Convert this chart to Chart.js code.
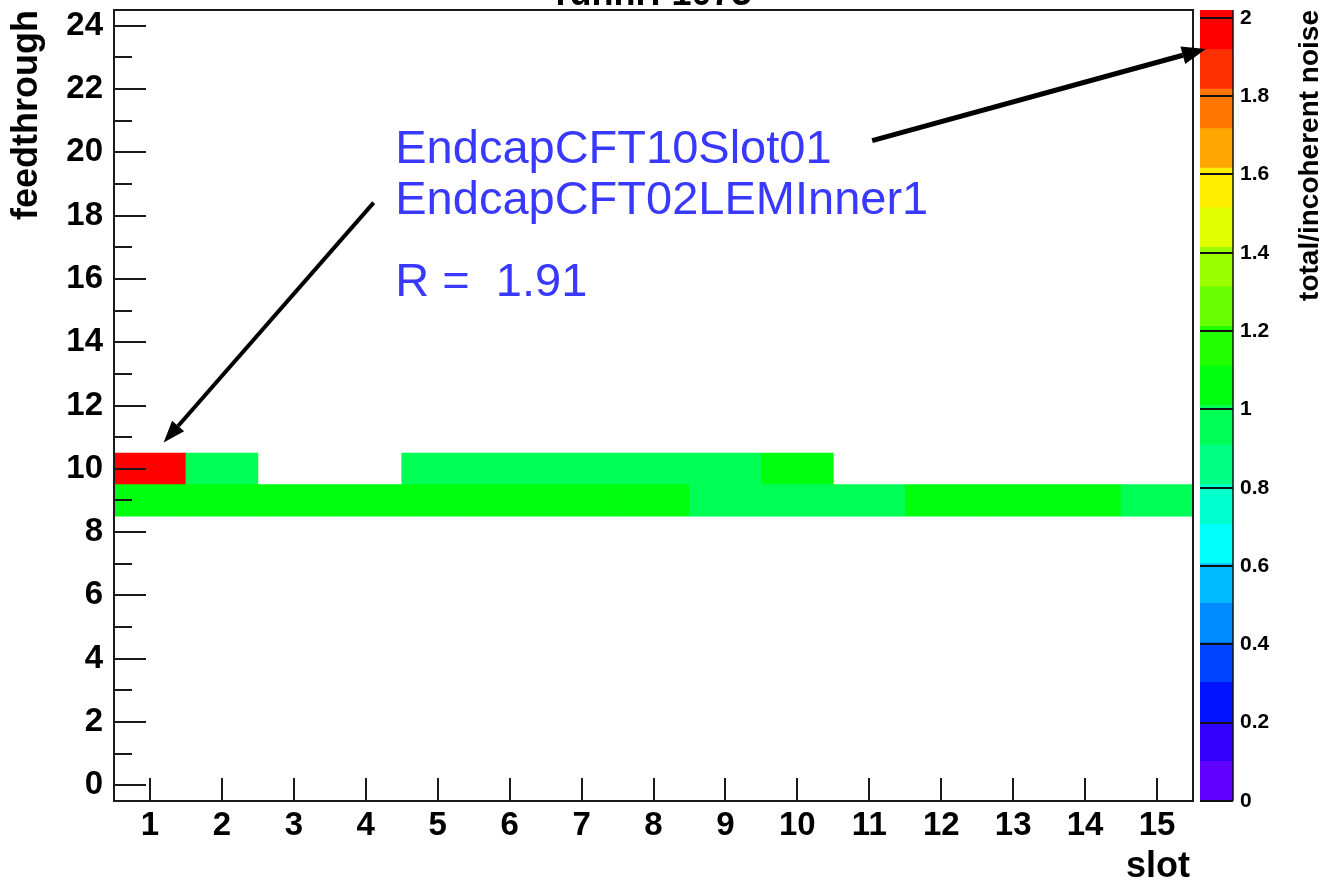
<!DOCTYPE html>
<html><head><meta charset="utf-8">
<script src="https://cdn.jsdelivr.net/npm/chart.js@4.4.1/dist/chart.umd.min.js"></script>
<style>
html,body{margin:0;padding:0;background:#fff;}
#wrap{position:relative;width:1322px;height:880px;overflow:hidden;}
#cbar{position:absolute;left:1190px;top:0;width:132px;height:880px;}
#main{position:absolute;left:0;top:0;width:1322px;height:880px;}
</style></head><body>
<div id="wrap">
  <div id="cbar"><canvas id="cbarCanvas"></canvas></div>
  <div id="main"><canvas id="mainCanvas"></canvas></div>
</div>
<script>
// ---------------- data ----------------
const slots = ['1','2','3','4','5','6','7','8','9','10','11','12','13','14','15'];
const feedthroughRows = [9, 10];
// total/incoherent noise ratio per slot (null = empty bin)
const row9Ratio  = [1.04, 1.03, 1.05, 1.02, 1.04, 1.03, 1.02, 1.01, 0.98, 0.97, 0.99, 1.03, 1.04, 1.02, 0.98];
const row10Ratio = [1.91, 0.96, null, null, 0.97, 0.95, 0.96, 0.98, 0.97, 1.02, null, null, null, null, null];
const yTickValues = [0,1,2,3,4,5,6,7,8,9,10,11,12,13,14,15,16,17,18,19,20,21,22,23,24];
const yLabelValues = [0,2,4,6,8,10,12,14,16,18,20,22,24];
const zTickValues = [0,0.2,0.4,0.6,0.8,1,1.2,1.4,1.6,1.8,2];
const zContourMax = 2.0;   // contour range used for colouring
const zAxisMax = 2.02;     // palette axis range
const paletteColors = ['#6200ff','#3300ff','#0014ff','#0044ff','#008bff','#00bbff','#00fffc','#00ffcc','#00ff85','#00ff55',
                       '#00ff0e','#22ff00','#69ff00','#99ff00','#e0ff00','#ffee00','#ffa700','#ff7700','#ff3000','#ff0000'];
const annotationLines = ['EndcapCFT10Slot01', 'EndcapCFT02LEMInner1', 'R =  1.91'];
const titleText = 'runnr: 1073';
// --------------------------------------

const FONT = "'Liberation Sans', Arial, Helvetica, sans-serif";
Chart.defaults.font.family = FONT;

function colorFor(v) {
  const n = paletteColors.length;
  let k = Math.floor(v / (zContourMax / n));
  k = Math.max(0, Math.min(n - 1, k));
  return paletteColors[k];
}

const rowData = [row9Ratio, row10Ratio];
const mainDatasets = feedthroughRows.map((row, r) => ({
  label: 'feedthrough ' + row,
  data: rowData[r].map(v => v === null ? null : [row - 0.5, row + 0.5]),
  backgroundColor: rowData[r].map(v => v === null ? 'rgba(0,0,0,0)' : colorFor(v)),
  borderWidth: 0,
  grouped: false,
  barPercentage: 1,
  categoryPercentage: 1
}));

function line(ctx, x1, y1, x2, y2) {
  ctx.beginPath(); ctx.moveTo(x1, y1); ctx.lineTo(x2, y2); ctx.stroke();
}
function arrow(ctx, x1, y1, x2, y2, w, headLen, headW) {
  const ang = Math.atan2(y2 - y1, x2 - x1);
  const bx = x2 - headLen * Math.cos(ang), by = y2 - headLen * Math.sin(ang);
  ctx.lineWidth = w;
  line(ctx, x1, y1, bx, by);
  ctx.beginPath();
  ctx.moveTo(x2, y2);
  ctx.lineTo(bx + headW / 2 * Math.sin(ang), by - headW / 2 * Math.cos(ang));
  ctx.lineTo(bx - headW / 2 * Math.sin(ang), by + headW / 2 * Math.cos(ang));
  ctx.closePath(); ctx.fill();
}
function noPad(s) { s.paddingTop = 0; s.paddingBottom = 0; s.paddingLeft = 0; s.paddingRight = 0; }

const frameAndTicks = {
  id: 'frameAndTicks',
  afterDatasetsDraw(chart) {
    const {ctx, chartArea: a, scales: {x, y}} = chart;
    ctx.save();
    ctx.strokeStyle = '#1a1a1a';
    ctx.lineWidth = 2;
    ctx.strokeRect(a.left, a.top, a.right - a.left, a.bottom - a.top);
    x.ticks.forEach((t, i) => {
      const px = Math.round(x.getPixelForTick(i));
      line(ctx, px, a.bottom, px, a.bottom - 23);
    });
    y.ticks.forEach(t => {
      const py = Math.round(y.getPixelForValue(t.value));
      const len = yLabelValues.includes(t.value) ? 32 : 18;
      line(ctx, a.left, py, a.left + len, py);
    });
    ctx.restore();
  },
  afterDraw(chart) {
    const {ctx, chartArea: a, scales: {x, y}} = chart;
    const px = s => x.getPixelForValue(s - 1);
    const py = v => y.getPixelForValue(v);
    ctx.save();
    ctx.fillStyle = '#000';
    // title (mostly cut off at top)
    ctx.font = 'bold 36px ' + FONT;
    ctx.textAlign = 'center'; ctx.textBaseline = 'alphabetic';
    ctx.fillText(titleText, (a.left + a.right) / 2, 5);
    // x title
    ctx.textAlign = 'right';
    ctx.fillText('slot', a.right - 3, 877);
    // y title
    ctx.save();
    ctx.translate(37, a.top);
    ctx.rotate(-Math.PI / 2);
    ctx.textAlign = 'right';
    ctx.fillText('feedthrough', 0, 0);
    ctx.restore();
    // colour bar title
    ctx.save();
    ctx.font = 'bold 28px ' + FONT;
    ctx.translate(1318, a.top);
    ctx.rotate(-Math.PI / 2);
    ctx.textAlign = 'right';
    ctx.fillText('total/incoherent noise', 0, 0);
    ctx.restore();
    // annotation text
    ctx.fillStyle = '#3838ff';
    ctx.font = '47px ' + FONT;
    ctx.textAlign = 'left';
    const tx = px(4.41);
    ctx.fillText(annotationLines[0], tx, py(19.67));
    ctx.fillText(annotationLines[1], tx, py(18.06));
    ctx.fillText(annotationLines[2], tx, py(15.47));
    // arrows
    ctx.fillStyle = '#000'; ctx.strokeStyle = '#000';
    arrow(ctx, px(4.11), py(18.41), px(1.19), py(10.83), 4, 22, 16);
    arrow(ctx, px(11.04), py(20.37), px(15.68), py(23.27), 5, 24, 18);
    ctx.restore();
  }
};

new Chart(document.getElementById('mainCanvas'), {
  type: 'bar',
  data: { labels: slots, datasets: mainDatasets },
  options: {
    responsive: true, maintainAspectRatio: false, animation: false,
    layout: { padding: { left: 0, top: 10, right: 129, bottom: 0 } },
    plugins: { legend: { display: false }, tooltip: { enabled: false }, title: { display: false } },
    scales: {
      x: {
        type: 'category',
        grid: { display: false, drawTicks: false },
        border: { display: false },
        ticks: { autoSkip: false, maxRotation: 0, color: '#000', padding: 5,
                 font: { size: 33, weight: 'bold' } },
        afterFit: s => { s.height = 79; noPad(s); }
      },
      y: {
        type: 'linear', min: -0.5, max: 24.5,
        grid: { display: false, drawTicks: false },
        border: { display: false },
        afterBuildTicks: s => { s.ticks = yTickValues.map(v => ({ value: v })); },
        ticks: { autoSkip: false, color: '#000', padding: 11,
                 font: { size: 33, weight: 'bold' },
                 callback: v => yLabelValues.includes(v) ? String(v) : '' },
        afterFit: s => { s.width = 114; noPad(s); }
      }
    }
  },
  plugins: [frameAndTicks]
});

// ---------------- colour bar ----------------
const nBands = paletteColors.length;
const bandDatasets = paletteColors.map((c, k) => ({
  label: 'band ' + k,
  data: [[k * zAxisMax / nBands, (k + 1) * zAxisMax / nBands]],
  backgroundColor: c,
  borderWidth: 0,
  grouped: false,
  barPercentage: 1,
  categoryPercentage: 1
}));

const cbarTicks = {
  id: 'cbarTicks',
  afterDatasetsDraw(chart) {
    const {ctx, chartArea: a, scales: {y}} = chart;
    ctx.save();
    ctx.strokeStyle = '#111';
    ctx.lineWidth = 2;
    zTickValues.forEach(v => {
      const py = Math.round(y.getPixelForValue(v));
      line(ctx, a.left, py, a.right, py);
    });
    ctx.lineWidth = 1.5;
    line(ctx, a.right, a.top, a.right, a.bottom);
    ctx.restore();
  }
};

new Chart(document.getElementById('cbarCanvas'), {
  type: 'bar',
  data: { labels: [''], datasets: bandDatasets },
  options: {
    responsive: true, maintainAspectRatio: false, animation: false,
    layout: { padding: { left: 10, top: 10, right: 0, bottom: 79 } },
    plugins: { legend: { display: false }, tooltip: { enabled: false } },
    scales: {
      x: { display: false },
      y: {
        type: 'linear', position: 'right', min: 0, max: zAxisMax,
        grid: { display: false, drawTicks: false },
        border: { display: false },
        afterBuildTicks: s => { s.ticks = zTickValues.map(v => ({ value: v })); },
        ticks: { autoSkip: false, color: '#000', padding: 7,
                 font: { size: 21, weight: 'bold' },
                 callback: v => String(Number(v.toFixed(1))) },
        afterFit: s => { s.width = 89; noPad(s); }
      }
    }
  },
  plugins: [cbarTicks]
});
</script>
</body></html>
